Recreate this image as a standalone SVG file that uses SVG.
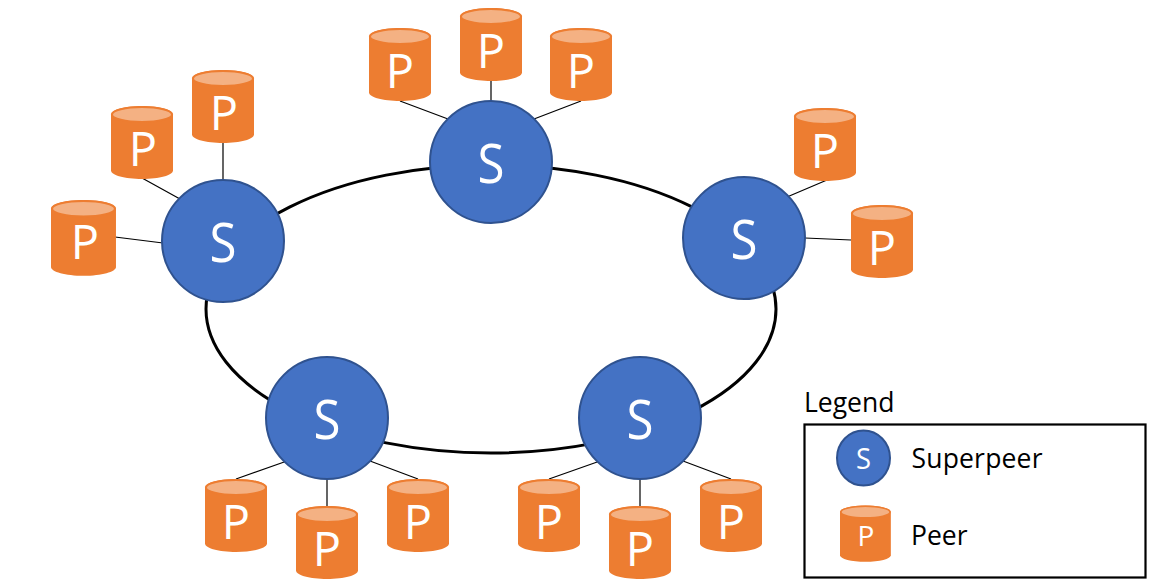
<svg xmlns="http://www.w3.org/2000/svg" width="1156" height="587" viewBox="0 0 1156 587">
<style>
text{font-family:"Open Sans","Noto Sans","Liberation Sans",sans-serif}
.sp{fill:#4472c4;stroke:#2f528f;stroke-width:2}
.cb{fill:#ed7d31}
.ct{fill:#f4b183;stroke:#ed7d31;stroke-width:2}
.w{fill:#fff;text-anchor:middle}
.big{font-size:54px}
.pl{font-size:47px}
.k{fill:#000;font-size:26.500px}
.ln{stroke:#000;stroke-width:1.2;fill:none}
</style>
<defs>
<g id="cyl">
<path class="cb" d="M0 8.500C0 3.800 13.800 0 31 0S62 3.800 62 8.500V64.500C62 69.200 48.200 73 31 73S0 69.200 0 64.500Z"/>
<ellipse class="ct" cx="31" cy="8.500" rx="30" ry="7.500"/>
</g>
</defs>
<g id="connectors">
<ellipse cx="491" cy="309" rx="285" ry="144" fill="none" stroke="#000" stroke-width="3"/>
<path class="ln" d="M115 237L163 243M142 178L180 199M223 143V181M400 101L448 119M491 81V102M581 101L534 119M827 180L787 197M851 240L805 238M236 479L287 461M327 506V478M418 479L370 461M549 479L600 461M640 506V478M731 479L683 461"/>
</g>
<g id="s1"><circle class="sp" cx="223" cy="241" r="61"/><text class="w big" x="223" y="262" textLength="27" lengthAdjust="spacingAndGlyphs">S</text></g>
<g id="s2"><circle class="sp" cx="491" cy="162" r="61"/><text class="w big" x="491" y="183" textLength="27" lengthAdjust="spacingAndGlyphs">S</text></g>
<g id="s3"><circle class="sp" cx="744" cy="238" r="61"/><text class="w big" x="744" y="259" textLength="27" lengthAdjust="spacingAndGlyphs">S</text></g>
<g id="s4"><circle class="sp" cx="327" cy="418" r="61"/><text class="w big" x="327" y="439" textLength="27" lengthAdjust="spacingAndGlyphs">S</text></g>
<g id="s5"><circle class="sp" cx="640" cy="418" r="61"/><text class="w big" x="640" y="439" textLength="27" lengthAdjust="spacingAndGlyphs">S</text></g>
<g id="p1"><use href="#cyl" transform="translate(51 200) scale(1.048 1.037)"/><text class="w pl" x="85" y="259">P</text></g>
<g id="p2"><use href="#cyl" x="111" y="106"/><text class="w pl" x="143" y="166">P</text></g>
<g id="p3"><use href="#cyl" x="192" y="70"/><text class="w pl" x="224" y="130">P</text></g>
<g id="p4"><use href="#cyl" x="369" y="28"/><text class="w pl" x="400" y="88">P</text></g>
<g id="p5"><use href="#cyl" x="460" y="8"/><text class="w pl" x="491" y="68">P</text></g>
<g id="p6"><use href="#cyl" x="550" y="28"/><text class="w pl" x="581" y="88">P</text></g>
<g id="p7"><use href="#cyl" x="794" y="108"/><text class="w pl" x="825" y="168">P</text></g>
<g id="p8"><use href="#cyl" x="851" y="205"/><text class="w pl" x="882" y="265">P</text></g>
<g id="p9"><use href="#cyl" x="205" y="479"/><text class="w pl" x="236" y="539">P</text></g>
<g id="p10"><use href="#cyl" x="296" y="506"/><text class="w pl" x="327" y="566">P</text></g>
<g id="p11"><use href="#cyl" x="387" y="479"/><text class="w pl" x="418" y="539">P</text></g>
<g id="p12"><use href="#cyl" x="518" y="479"/><text class="w pl" x="549" y="539">P</text></g>
<g id="p13"><use href="#cyl" x="609" y="506"/><text class="w pl" x="640" y="566">P</text></g>
<g id="p14"><use href="#cyl" x="700" y="479"/><text class="w pl" x="731" y="539">P</text></g>
<g id="legend">
<text class="k" x="804" y="412">Legend</text>
<rect x="804.500" y="424.500" width="341" height="153" fill="#fff" stroke="#000" stroke-width="2.200"/>
<ellipse class="sp" cx="863.500" cy="458" rx="26.500" ry="27.500"/>
<text class="w" x="863.500" y="469" font-size="30" textLength="15" lengthAdjust="spacingAndGlyphs">S</text>
<use href="#cyl" transform="translate(840 505.500) scale(.82 .77)"/>
<text class="w" x="866" y="546" font-size="28">P</text>
<text class="k" x="911.500" y="468" textLength="131" lengthAdjust="spacing">Superpeer</text>
<text class="k" x="911" y="545">Peer</text>
</g>
</svg>
